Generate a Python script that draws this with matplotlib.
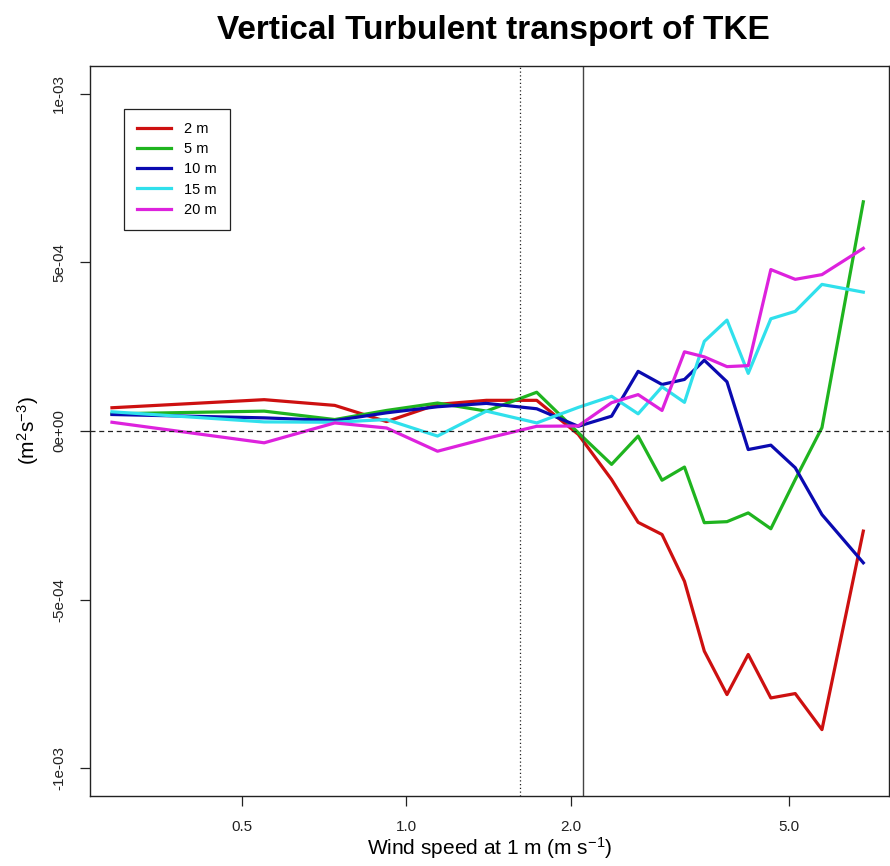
import numpy as np
import matplotlib.pyplot as plt

plt.rcParams['font.family'] = ['Liberation Sans', 'DejaVu Sans']
plt.rcParams['mathtext.fontset'] = 'custom'
plt.rcParams['mathtext.rm'] = 'Liberation Sans'
plt.rcParams['mathtext.it'] = 'Liberation Sans:italic'

# bin-mean wind speed at 1 m (m/s)
wind = [0.29, 0.55, 0.74, 0.92, 1.14, 1.40, 1.73, 2.06, 2.37, 2.65,
        2.93, 3.22, 3.50, 3.85, 4.21, 4.63, 5.13, 5.74, 6.83]

# vertical turbulent transport of TKE per height, in units of 1e-4 m2 s-3
tke_2m = [0.69, 0.93, 0.76, 0.28, 0.79, 0.91, 0.91, -0.10, -1.44, -2.71,
          -3.07, -4.46, -6.53, -7.82, -6.63, -7.92, -7.79, -8.86, -2.97]
tke_5m = [0.51, 0.59, 0.34, 0.61, 0.83, 0.59, 1.15, -0.05, -0.99, -0.15,
          -1.46, -1.07, -2.72, -2.69, -2.43, -2.90, -1.44, 0.10, 6.80]
tke_10m = [0.49, 0.39, 0.31, 0.54, 0.72, 0.82, 0.66, 0.14, 0.44, 1.77,
           1.38, 1.53, 2.10, 1.46, -0.55, -0.42, -1.09, -2.48, -3.91]
tke_15m = [0.57, 0.27, 0.26, 0.34, -0.15, 0.59, 0.24, 0.70, 1.03, 0.51,
           1.31, 0.85, 2.66, 3.29, 1.71, 3.33, 3.55, 4.35, 4.12]
tke_20m = [0.26, -0.35, 0.24, 0.09, -0.60, -0.22, 0.14, 0.15, 0.84, 1.08,
           0.61, 2.35, 2.20, 1.91, 1.94, 4.79, 4.50, 4.64, 5.42]

heights = ['2 m', '5 m', '10 m', '15 m', '20 m']
colors = ['#cd1010', '#1fb41f', '#0a0ab0', '#30e0ec', '#dd22dd']
series = [tke_2m, tke_5m, tke_10m, tke_15m, tke_20m]

# wind thresholds marked on the plot
u_dotted = 1.614
u_solid = 2.10

fig = plt.figure(figsize=(8.9, 8.66), dpi=100)
ax = fig.add_axes([0.1011, 0.0808, 0.8978, 0.8430])

for vals, lab, col in zip(series, heights, colors):
    ax.plot(wind, np.array(vals) * 1e-4, color=col, lw=2.3, label=lab)

ax.axhline(0, color='#222222', lw=0.9, ls=(0, (4, 3)))
ax.axvline(u_dotted, color='#222222', lw=0.9, ls=(0, (1, 2)))
ax.axvline(u_solid, color='#444444', lw=1.0)

ax.set_xscale('log')
ax.set_xlim(0.2644, 7.61)
ax.set_ylim(-1.083e-3, 1.083e-3)

ax.set_xticks([0.5, 1.0, 2.0, 5.0])
ax.set_xticklabels(['0.5', '1.0', '2.0', '5.0'])
ax.minorticks_off()
ax.tick_params(axis='x', length=7, width=0.9, pad=10, labelsize=11,
               colors='#222222')
ax.set_yticks([1e-3, 5e-4, 0, -5e-4, -1e-3])
ax.set_yticklabels(['1e-03', '5e-04', '0e+00', '-5e-04', '-1e-03'],
                   rotation=90, va='center')
ax.tick_params(axis='y', length=7, width=0.9, pad=10, labelsize=11,
               colors='#222222')

for sp in ax.spines.values():
    sp.set_linewidth(1.0)
    sp.set_color('#222222')

ax.set_xlabel('Wind speed at 1 m (m s$^{-1}$)', fontsize=15, labelpad=1)
ax.set_ylabel('(m$^2$s$^{-3}$)', fontsize=15, labelpad=8)

fig.text(0.554, 1 - 31 / 866, 'Vertical Turbulent transport of TKE',
         fontsize=24, fontweight='bold', ha='center', va='center')

leg = ax.legend(loc='upper left', bbox_to_anchor=(0.0426, 0.941),
                borderaxespad=0, fancybox=False, framealpha=1,
                edgecolor='#222222', fontsize=10.5, handlelength=2.3,
                handletextpad=0.9, labelspacing=0.42, borderpad=0.9)
leg.get_frame().set_linewidth(0.9)

fig.savefig('out.png', dpi=100)
